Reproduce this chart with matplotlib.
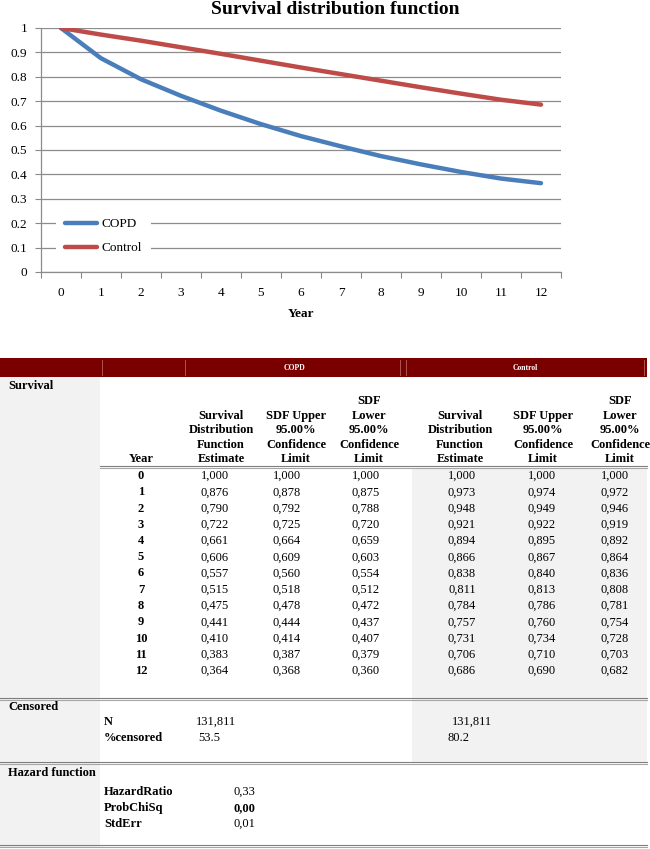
import numpy as np
import matplotlib
matplotlib.use('Agg')
import matplotlib.pyplot as plt

plt.rcParams['font.family'] = ['Liberation Serif', 'DejaVu Serif']

# 데이터
years = list(range(13))
copd_est = [1.000, 0.876, 0.790, 0.722, 0.661, 0.606, 0.557, 0.515, 0.475, 0.441, 0.410, 0.383, 0.364]
copd_upper = [1.000, 0.878, 0.792, 0.725, 0.664, 0.609, 0.560, 0.518, 0.478, 0.444, 0.414, 0.387, 0.368]
copd_lower = [1.000, 0.875, 0.788, 0.720, 0.659, 0.603, 0.554, 0.512, 0.472, 0.437, 0.407, 0.379, 0.360]
ctrl_est = [1.000, 0.973, 0.948, 0.921, 0.894, 0.866, 0.838, 0.811, 0.784, 0.757, 0.731, 0.706, 0.686]
ctrl_upper = [1.000, 0.974, 0.949, 0.922, 0.895, 0.867, 0.840, 0.813, 0.786, 0.760, 0.734, 0.710, 0.690]
ctrl_lower = [1.000, 0.972, 0.946, 0.919, 0.892, 0.864, 0.836, 0.808, 0.781, 0.754, 0.728, 0.703, 0.682]

groups = ['COPD', 'Control']
col_headers = [
    ['Survival', 'Distribution', 'Function', 'Estimate'],
    ['SDF Upper', '95.00%', 'Confidence', 'Limit'],
    ['SDF', 'Lower', '95.00%', 'Confidence', 'Limit'],
]
censored_n = ['131,811', '131,811']
censored_pct = ['53.5', '80.2']
hazard_labels = ['HazardRatio', 'ProbChiSq', 'StdErr']
hazard_values = [0.33, 0.00, 0.01]

W, H = 650, 849
fig = plt.figure(figsize=(W / 100, H / 100), dpi=100)

# ---------- 표 (픽셀 좌표 축) ----------
tab = fig.add_axes([0, 0, 1, 1])
tab.set_xlim(0, W)
tab.set_ylim(H, 0)
tab.axis('off')

fs = 9
gray_bg = '#F2F2F2'
rule_c = '#7F7F7F'

# 배경
tab.add_patch(plt.Rectangle((0, 377), 100, 470, color=gray_bg, lw=0))
tab.add_patch(plt.Rectangle((412, 468), 235, 295, color=gray_bg, lw=0))

# 헤더 바
tab.add_patch(plt.Rectangle((0, 358), 647, 19, color='#7A0000', lw=0))
for sx in [102, 185, 400, 406, 644]:
    tab.plot([sx, sx], [360, 375], color='#B46464', lw=0.6)
tab.text(295, 367.5, groups[0], color='white', fontsize=5.5, fontweight='bold',
         ha='center', va='center')
tab.text(525, 367.5, groups[1], color='white', fontsize=5.5, fontweight='bold',
         ha='center', va='center')

tab.text(8, 386, 'Survival', fontsize=fs, fontweight='bold', ha='left', va='center')

# 열 제목
head_x = [221, 296, 369, 460, 543, 620]
tab.text(141, 459, 'Year', fontsize=fs, fontweight='bold', ha='center', va='center')
for i, hx in enumerate(head_x):
    lines = col_headers[i % 3]
    n = len(lines)
    for j, line in enumerate(lines):
        y = 459 - (n - 1 - j) * 14.4
        tab.text(hx, y, line, fontsize=fs, fontweight='bold', ha='center', va='center')


def rule(x0, x1, y):
    tab.plot([x0, x1], [y - 1, y - 1], color=rule_c, lw=0.8)
    tab.plot([x0, x1], [y + 0.6, y + 0.6], color='#A6A6A6', lw=0.8)


rule(100, 647, 467)

# 데이터 행
val_x = [215, 287, 366, 462, 542, 615]
cols = [copd_est, copd_upper, copd_lower, ctrl_est, ctrl_upper, ctrl_lower]
for i, yr in enumerate(years):
    y = 476 + 16.25 * i
    tab.text(141, y, str(yr), fontsize=fs, fontweight='bold', ha='center', va='center')
    for cx, col in zip(val_x, cols):
        tab.text(cx, y, f"{col[i]:.3f}".replace('.', ','), fontsize=fs,
                 ha='center', va='center')

rule(0, 647, 699)

# Censored
tab.text(8, 707, 'Censored', fontsize=fs, fontweight='bold', ha='left', va='center')
tab.text(104, 722, 'N', fontsize=fs, fontweight='bold', ha='left', va='center')
tab.text(104, 738, '%censored', fontsize=fs, fontweight='bold', ha='left', va='center')
tab.text(196, 722, censored_n[0], fontsize=fs, ha='left', va='center')
tab.text(198, 738, censored_pct[0], fontsize=fs, ha='left', va='center')
tab.text(452, 722, censored_n[1], fontsize=fs, ha='left', va='center')
tab.text(448, 738, censored_pct[1], fontsize=fs, ha='left', va='center')

rule(0, 647, 763)

# Hazard function
tab.text(8, 773, 'Hazard function', fontsize=fs, fontweight='bold', ha='left', va='center')
for k, (lab, v) in enumerate(zip(hazard_labels, hazard_values)):
    y = 792 + 16 * k
    tab.text(104, y, lab, fontsize=fs, fontweight='bold', ha='left', va='center')
    tab.text(234, y, f"{v:.2f}".replace('.', ','), fontsize=fs,
             fontweight='bold' if lab == 'ProbChiSq' else 'normal', ha='left', va='center')

rule(0, 647, 846)

# ---------- 생존 곡선 차트 ----------
left, right = 41 / W, 561 / W
top_px, bot_px = 28, 272
ax = fig.add_axes([left, 1 - bot_px / H, right - left, (bot_px - top_px) / H])

blue = '#4A7EBB'
red = '#BE4B48'
ax.plot(years, copd_est, color=blue, lw=3.2, label='COPD',
        solid_capstyle='round', solid_joinstyle='round', zorder=3)
ax.plot(years, ctrl_est, color=red, lw=3.2, label='Control',
        solid_capstyle='round', solid_joinstyle='round', zorder=3)

ax.set_xlim(-0.5, 12.5)
ax.set_ylim(0, 1)
ax.set_yticks(np.arange(0, 1.01, 0.1))
ax.set_yticklabels(['0'] + [f"{v:.1f}" for v in np.arange(0.1, 0.95, 0.1)] + ['1'])
ax.set_xticks(np.arange(-0.5, 13, 1))
ax.set_xticklabels([])
ax.set_xticks(years, minor=True)
ax.set_xticklabels([str(y) for y in years], minor=True)
ax.tick_params(axis='x', which='major', length=4, color='#888888')
ax.tick_params(axis='x', which='minor', length=0, pad=11, labelsize=9.5)
ax.tick_params(axis='y', length=4, color='#888888', pad=6, labelsize=9.5)
ax.grid(axis='y', color='#8C8C8C', lw=0.9)
ax.set_axisbelow(True)
for s in ['top', 'right']:
    ax.spines[s].set_visible(False)
for s in ['left', 'bottom']:
    ax.spines[s].set_color('#8C8C8C')
    ax.spines[s].set_linewidth(0.9)

ax.set_xlabel('Year', fontsize=9.5, fontweight='bold', labelpad=6)

leg = ax.legend(loc='lower left', bbox_to_anchor=(0.029, 0.034), fontsize=9.5,
                frameon=True, fancybox=False, handlelength=2.4, handletextpad=0.35,
                labelspacing=0.9, borderpad=0.7, borderaxespad=0)
leg.get_frame().set_facecolor('white')
leg.get_frame().set_edgecolor('none')
leg.get_frame().set_alpha(1)

fig.text(335 / W, 1 - 10 / H, 'Survival distribution function', fontsize=14,
         fontweight='bold', ha='center', va='center')

fig.savefig('out.png', dpi=100)
